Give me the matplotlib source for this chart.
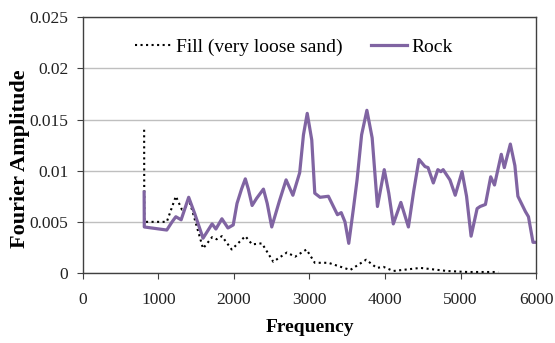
import numpy as np
import matplotlib.pyplot as plt

plt.rcParams['font.family'] = ['Liberation Serif', 'DejaVu Serif']

# Rock spectrum
rock_f = [810, 812, 1110, 1180, 1230, 1300, 1400, 1480, 1590, 1710, 1760, 1840, 1920,
          1990, 2040, 2100, 2150, 2190, 2240, 2300, 2390, 2440, 2500, 2600, 2690,
          2780, 2870, 2920, 2970, 3030, 3070, 3140, 3250, 3370, 3420, 3470, 3520,
          3580, 3630, 3690, 3760, 3830, 3900, 3990, 4050, 4110, 4210, 4310, 4380,
          4450, 4530, 4570, 4640, 4700, 4740, 4770, 4860, 4930, 5020, 5080, 5140,
          5220, 5260, 5330, 5400, 5450, 5540, 5580, 5660, 5720, 5760, 5860, 5900,
          5960, 6000]
rock_a = [0.0079, 0.0045, 0.0042, 0.0050, 0.0055, 0.0052, 0.0074, 0.0058, 0.0034,
          0.0048, 0.0043, 0.0053, 0.0044, 0.0047, 0.0068, 0.0082, 0.0092, 0.0082,
          0.0066, 0.0073, 0.0082, 0.0068, 0.0045, 0.0070, 0.0091, 0.0076, 0.0098,
          0.0135, 0.0156, 0.0130, 0.0078, 0.0074, 0.0075, 0.0057, 0.0059, 0.0050,
          0.0029, 0.0062, 0.0091, 0.0135, 0.0159, 0.0132, 0.0065, 0.0101, 0.0078,
          0.0048, 0.0069, 0.0045, 0.0080, 0.0111, 0.0104, 0.0103, 0.0088, 0.0101,
          0.0099, 0.0101, 0.0091, 0.0076, 0.0099, 0.0075, 0.0036, 0.0063, 0.0065,
          0.0067, 0.0094, 0.0086, 0.0116, 0.0103, 0.0126, 0.0105, 0.0075, 0.0060,
          0.0055, 0.0030, 0.0030]

# Fill (very loose sand) spectrum
fill_f = [810, 812, 1110, 1230, 1310, 1420, 1590, 1710, 1770, 1840, 1970, 2150,
          2240, 2370, 2520, 2700, 2810, 2960, 3070, 3250, 3540, 3750, 3890, 3980,
          4110, 4470, 4820, 5090, 5500]
fill_a = [0.0140, 0.0050, 0.0050, 0.0075, 0.0062, 0.0068, 0.0024, 0.0035, 0.0033,
          0.0036, 0.0023, 0.0036, 0.0028, 0.0029, 0.0011, 0.0020, 0.0016, 0.0023,
          0.0010, 0.0010, 0.0003, 0.0013, 0.0005, 0.0006, 0.0002, 0.0005, 0.0002,
          0.0001, 0.0001]

fig = plt.figure(figsize=(5.55, 3.43), dpi=100)
ax = fig.add_axes([0.1495, 0.204, 0.8163, 0.746])

ax.plot(fill_f, fill_a, color='black', linestyle=':', linewidth=1.5,
        label='Fill (very loose sand)')
ax.plot(rock_f, rock_a, color='#8064A2', linewidth=2.3, label='Rock',
        solid_joinstyle='round')

ax.set_xlim(0, 6000)
ax.set_ylim(0, 0.025)
ax.set_xticks(np.arange(0, 6001, 1000))
ax.set_yticks([0, 0.005, 0.01, 0.015, 0.02, 0.025])
ax.set_yticklabels(['0', '0.005', '0.01', '0.015', '0.02', '0.025'])
ax.yaxis.grid(True, color='#BFBFBF', linewidth=1)
ax.set_axisbelow(True)
ax.tick_params(labelsize=12.5, direction='out', length=4, colors='#404040',
               labelcolor='#222222')
ax.tick_params(axis='x', pad=10)
ax.tick_params(axis='y', pad=6.5)
for s in ax.spines.values():
    s.set_color('#404040')
    s.set_linewidth(1)

ax.set_xlabel('Frequency', fontsize=14, fontweight='bold')
ax.set_ylabel('Fourier Amplitude', fontsize=16, fontweight='bold')
ax.xaxis.set_label_coords(0.5, -0.18)
ax.yaxis.set_label_coords(-0.116, 0.445)

fig.legend(loc='center', bbox_to_anchor=(294 / 555, 1 - 47 / 343), ncol=2,
           frameon=False, fontsize=14, handlelength=1.85, handletextpad=0.25,
           columnspacing=1.45)

fig.savefig('out.png', dpi=100)
